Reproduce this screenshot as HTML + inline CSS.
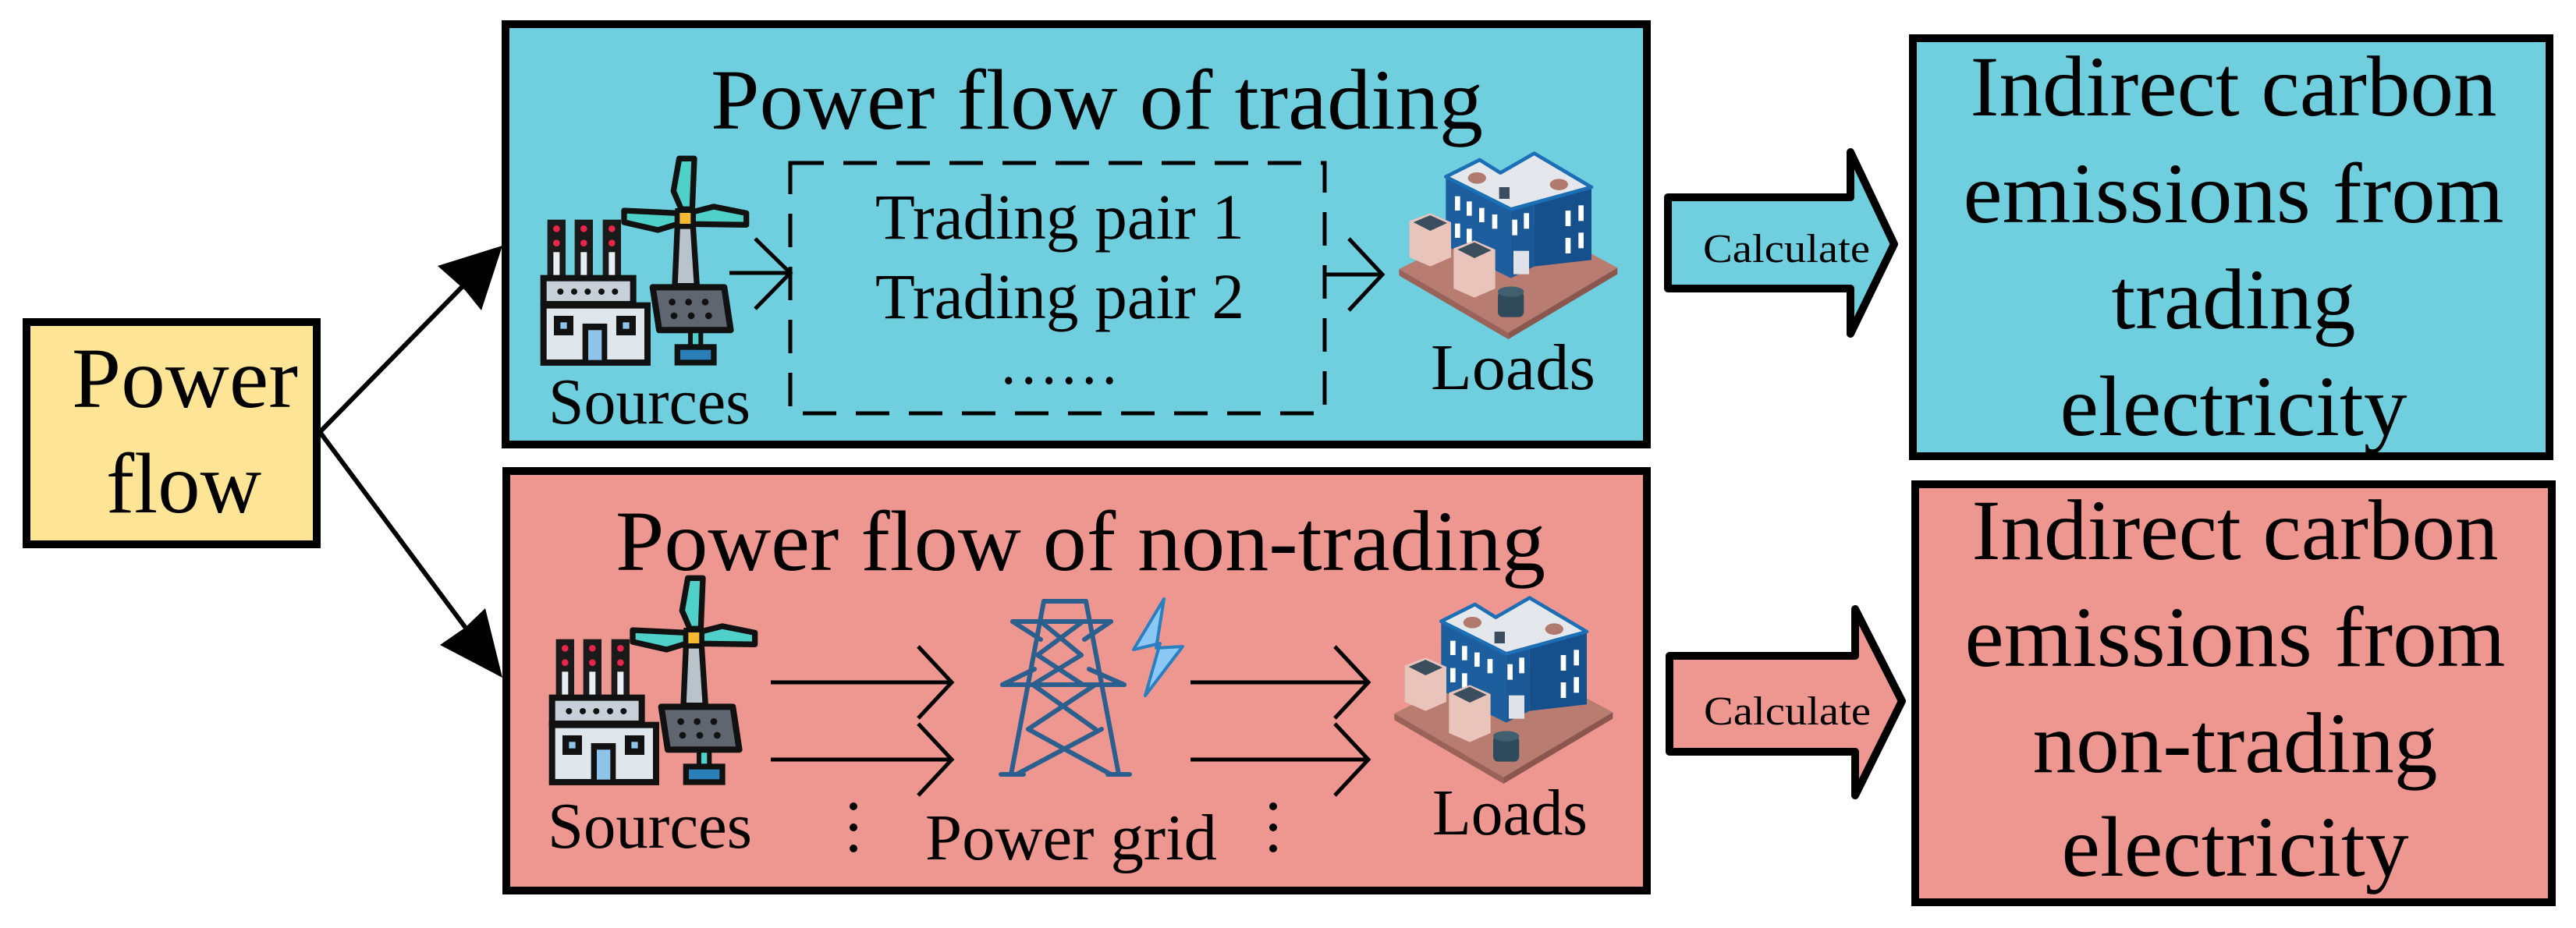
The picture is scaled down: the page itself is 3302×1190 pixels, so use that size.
<!DOCTYPE html>
<html><head><meta charset="utf-8"><style>
html,body{margin:0;padding:0;background:#fff;}
svg{display:block;}
svg text{font-family:"Liberation Serif","Times New Roman","DejaVu Serif",serif !important;fill:#000;}
</style></head><body>
<svg width="3302" height="1190" viewBox="0 0 3302 1190" xmlns="http://www.w3.org/2000/svg" font-family="Liberation Serif, Times New Roman, DejaVu Serif, serif">
<defs>
<g id="src">
  <rect x="65" y="275" width="70" height="225" fill="#1a1a1a"/>
  <rect x="170" y="275" width="70" height="225" fill="#1a1a1a"/>
  <rect x="278" y="275" width="70" height="225" fill="#1a1a1a"/>
  <rect x="88" y="400" width="24" height="90" fill="#e8eef2"/>
  <rect x="193" y="400" width="24" height="90" fill="#e8eef2"/>
  <rect x="301" y="400" width="24" height="90" fill="#e8eef2"/>
  <circle cx="100" cy="310" r="13" fill="#e8264a"/><circle cx="100" cy="365" r="13" fill="#e8264a"/>
  <circle cx="205" cy="310" r="13" fill="#e8264a"/><circle cx="205" cy="365" r="13" fill="#e8264a"/>
  <circle cx="313" cy="310" r="13" fill="#e8264a"/><circle cx="313" cy="365" r="13" fill="#e8264a"/>
  <rect x="50" y="500" width="345" height="100" fill="#c7d0d8" stroke="#111" stroke-width="24"/>
  <g fill="#111"><circle cx="115" cy="552" r="12"/><circle cx="168" cy="552" r="12"/><circle cx="220" cy="552" r="12"/><circle cx="273" cy="552" r="12"/><circle cx="325" cy="552" r="12"/></g>
  <rect x="50" y="605" width="400" height="220" fill="#dfe7ec" stroke="#111" stroke-width="24"/>
  <rect x="90" y="645" width="75" height="75" fill="#111"/><rect x="115" y="670" width="25" height="25" fill="#8ec3ea"/>
  <rect x="330" y="645" width="75" height="75" fill="#111"/><rect x="355" y="670" width="25" height="25" fill="#8ec3ea"/>
  <rect x="200" y="675" width="95" height="155" fill="#111"/><rect x="222" y="700" width="52" height="115" fill="#8ec3ea"/>
  <polygon points="565,300 625,300 640,530 555,530" fill="#b9c3cc" stroke="#111" stroke-width="22" stroke-linejoin="round"/>
  <polygon points="572,40 630,40 622,235 580,235 550,165" fill="#4fd0c8" stroke="#111" stroke-width="22" stroke-linejoin="round"/>
  <polygon points="360,240 565,250 565,292 490,315 360,285" fill="#4fd0c8" stroke="#111" stroke-width="22" stroke-linejoin="round"/>
  <polygon points="625,245 705,225 830,250 830,295 625,292" fill="#4fd0c8" stroke="#111" stroke-width="22" stroke-linejoin="round"/>
  <rect x="565" y="240" width="60" height="60" fill="#f5b830" stroke="#111" stroke-width="18"/>
  <rect x="615" y="695" width="40" height="70" fill="#4fd0c8" stroke="#111" stroke-width="18"/>
  <polygon points="470,535 745,535 770,700 495,700" fill="#5f6670" stroke="#111" stroke-width="24" stroke-linejoin="round"/>
  <g fill="#111"><circle cx="545" cy="592" r="13"/><circle cx="608" cy="592" r="13"/><circle cx="672" cy="592" r="13"/><circle cx="552" cy="645" r="13"/><circle cx="618" cy="645" r="13"/><circle cx="685" cy="645" r="13"/></g>
  <rect x="565" y="765" width="140" height="60" fill="#2a7fb8" stroke="#111" stroke-width="22"/>
</g>
<g id="bld">
  <polygon points="40,465 480,245 880,460 460,710" fill="#b97c70"/>
  <polygon points="40,465 460,710 460,735 40,490" fill="#9a6258"/>
  <polygon points="460,710 880,460 880,485 460,735" fill="#8a564e"/>
  <polygon points="220,110 470,235 470,500 220,375" fill="#1c5e9e"/>
  <polygon points="470,235 560,195 560,455 470,500" fill="#1a5897"/>
  <polygon points="560,195 780,150 780,430 560,455" fill="#154f8c"/>
  <polygon points="220,110 350,45 430,95 560,20 780,150 470,235" fill="#e4e8ec" stroke="#1d6fb5" stroke-width="14" stroke-linejoin="round"/>
  <ellipse cx="340" cy="115" rx="35" ry="22" fill="#b07a6e"/><ellipse cx="655" cy="140" rx="35" ry="22" fill="#b07a6e"/>
  <rect x="425" y="150" width="40" height="45" fill="#3a4e5e"/>
  <g fill="#fff">
    <rect x="255" y="185" width="20" height="55"/><rect x="300" y="205" width="20" height="55"/><rect x="348" y="230" width="20" height="55"/><rect x="398" y="255" width="20" height="55"/>
    <rect x="255" y="290" width="20" height="55"/><rect x="300" y="310" width="20" height="55"/>
    <rect x="475" y="275" width="20" height="60"/><rect x="520" y="250" width="20" height="60"/>
    <rect x="680" y="240" width="20" height="60"/><rect x="730" y="220" width="20" height="60"/>
    <rect x="680" y="345" width="20" height="60"/><rect x="730" y="325" width="20" height="60"/>
  </g>
  <rect x="480" y="395" width="60" height="90" fill="#dfe3e8"/>
  <polygon points="80,280 160,250 240,285 240,420 160,455 80,420" fill="#e8c4bb"/>
  <polygon points="95,285 160,258 225,288 160,318" fill="#3a4e5e"/>
  <polygon points="250,385 330,355 410,390 410,540 330,575 250,540" fill="#e8c4bb"/>
  <polygon points="265,390 330,362 395,393 330,423" fill="#3a4e5e"/>
  <rect x="420" y="550" width="100" height="100" rx="20" fill="#2f4a5a"/>
  <ellipse cx="470" cy="552" rx="50" ry="20" fill="#41606f"/>
</g>
</defs>

<line x1="410" y1="554" x2="600" y2="360" stroke="#000" stroke-width="6"/>
<polygon points="644,315 617,398 596,372 561,341" fill="#000"/>
<line x1="410" y1="554" x2="605" y2="816" stroke="#000" stroke-width="6"/>
<polygon points="644,869 564,827 596,805 622,780" fill="#000"/>

<rect x="34" y="413" width="372" height="285" fill="#fee495" stroke="#000" stroke-width="10"/>
<text x="92" y="522" font-size="110" textLength="290" lengthAdjust="spacingAndGlyphs">Power</text>
<text x="136" y="657" font-size="110" textLength="199" lengthAdjust="spacingAndGlyphs">flow</text>

<rect x="648" y="31" width="1463" height="539" fill="#6fcfde" stroke="#000" stroke-width="10"/>
<text x="911" y="165" font-size="110" textLength="990" lengthAdjust="spacingAndGlyphs">Power flow of trading</text>
<use href="#src" transform="translate(680,190) scale(0.3333)"/>
<text x="703" y="543" font-size="84" textLength="259" lengthAdjust="spacingAndGlyphs">Sources</text>
<rect x="1013" y="209" width="685" height="321" fill="none" stroke="#000" stroke-width="5" stroke-dasharray="43,25"/>
<text x="1122" y="306" font-size="83" textLength="473" lengthAdjust="spacingAndGlyphs">Trading pair 1</text>
<text x="1122" y="408" font-size="83" textLength="473" lengthAdjust="spacingAndGlyphs">Trading pair 2</text>
<text x="1280" y="492" font-size="83" textLength="155" lengthAdjust="spacingAndGlyphs">……</text>
<g stroke="#000" stroke-width="5" fill="none">
  <line x1="935" y1="350" x2="1013" y2="350"/><polyline points="968,306 1013,350 968,396"/>
  <line x1="1698" y1="352" x2="1772" y2="352"/><polyline points="1729,306 1772,352 1729,398"/>
</g>
<use href="#bld" transform="translate(1780,190) scale(0.3333)"/>
<text x="1834" y="499" font-size="84" textLength="211" lengthAdjust="spacingAndGlyphs">Loads</text>

<rect x="649" y="604" width="1462" height="538" fill="#ee9791" stroke="#000" stroke-width="10"/>
<text x="789" y="731" font-size="110" textLength="1192" lengthAdjust="spacingAndGlyphs">Power flow of non-trading</text>
<use href="#src" transform="translate(691,728) scale(0.3333)"/>
<text x="702" y="1087" font-size="84" textLength="262" lengthAdjust="spacingAndGlyphs">Sources</text>
<g stroke="#000" stroke-width="5" fill="none">
  <line x1="988" y1="875" x2="1220" y2="875"/><polyline points="1177,829 1220,875 1177,921"/>
  <line x1="988" y1="974" x2="1220" y2="974"/><polyline points="1177,928 1220,974 1177,1020"/>
  <line x1="1526" y1="875" x2="1754" y2="875"/><polyline points="1711,829 1754,875 1711,921"/>
  <line x1="1526" y1="974" x2="1754" y2="974"/><polyline points="1711,928 1754,974 1711,1020"/>
</g>
<g fill="#000"><circle cx="1094" cy="1034" r="5"/><circle cx="1094" cy="1061" r="5"/><circle cx="1094" cy="1088" r="5"/>
<circle cx="1632" cy="1034" r="5"/><circle cx="1632" cy="1061" r="5"/><circle cx="1632" cy="1088" r="5"/></g>
<g stroke="#2a5f8e" stroke-width="6" fill="none" stroke-linecap="round">
  <line x1="1338" y1="771" x2="1296" y2="993"/><line x1="1392" y1="771" x2="1434" y2="993"/>
  <line x1="1338" y1="771" x2="1392" y2="771"/>
  <line x1="1298" y1="797" x2="1424" y2="797"/>
  <line x1="1285" y1="878" x2="1441" y2="878"/>
  <line x1="1334" y1="797" x2="1386" y2="840"/><line x1="1388" y1="797" x2="1330" y2="840"/>
  <line x1="1330" y1="840" x2="1388" y2="878"/><line x1="1386" y1="840" x2="1324" y2="878"/>
  <line x1="1324" y1="878" x2="1404" y2="935"/><line x1="1404" y1="878" x2="1318" y2="935"/>
  <line x1="1318" y1="935" x2="1424" y2="993"/><line x1="1412" y1="935" x2="1303" y2="993"/>
  <line x1="1298" y1="797" x2="1334" y2="820"/><line x1="1424" y1="797" x2="1390" y2="820"/>
  <line x1="1285" y1="878" x2="1326" y2="858"/><line x1="1441" y1="878" x2="1396" y2="858"/>
  <line x1="1283" y1="993" x2="1312" y2="993"/><line x1="1420" y1="993" x2="1448" y2="993"/>
</g>
<polygon points="1492,768 1453,833 1487,825 1468,892 1516,829 1482,831" fill="#8cc8f5" stroke="#2a7fc0" stroke-width="4" stroke-linejoin="round"/>
<text x="1186" y="1102" font-size="84" textLength="374" lengthAdjust="spacingAndGlyphs">Power grid</text>
<use href="#bld" transform="translate(1774,760) scale(0.3333)"/>
<text x="1836" y="1070" font-size="84" textLength="199" lengthAdjust="spacingAndGlyphs">Loads</text>

<polygon points="2138,253 2372,253 2372,195 2428,313 2372,428 2372,370 2138,370" fill="#6fcfde" stroke="#000" stroke-width="10" stroke-linejoin="round"/>
<text x="2183" y="336" font-size="52" textLength="214" lengthAdjust="spacingAndGlyphs">Calculate</text>
<polygon points="2140,841 2378,841 2378,781 2438,899 2378,1020 2378,964 2140,964" fill="#ee9791" stroke="#000" stroke-width="10" stroke-linejoin="round"/>
<text x="2184" y="929" font-size="52" textLength="214" lengthAdjust="spacingAndGlyphs">Calculate</text>

<rect x="2452" y="49" width="816" height="536" fill="#6fcfde" stroke="#000" stroke-width="10"/>
<g font-size="110" text-anchor="middle">
<text x="2863" y="148" textLength="675" lengthAdjust="spacingAndGlyphs">Indirect carbon</text>
<text x="2863" y="285" textLength="693" lengthAdjust="spacingAndGlyphs">emissions from</text>
<text x="2863" y="421" textLength="313" lengthAdjust="spacingAndGlyphs">trading</text>
<text x="2863" y="558" textLength="445" lengthAdjust="spacingAndGlyphs">electricity</text>
</g>
<rect x="2455" y="621" width="816" height="536" fill="#ee9791" stroke="#000" stroke-width="10"/>
<g font-size="110" text-anchor="middle">
<text x="2865" y="717" textLength="675" lengthAdjust="spacingAndGlyphs">Indirect carbon</text>
<text x="2865" y="854" textLength="693" lengthAdjust="spacingAndGlyphs">emissions from</text>
<text x="2865" y="990" textLength="519" lengthAdjust="spacingAndGlyphs">non-trading</text>
<text x="2865" y="1123" textLength="445" lengthAdjust="spacingAndGlyphs">electricity</text>
</g>
</svg>
</body></html>
